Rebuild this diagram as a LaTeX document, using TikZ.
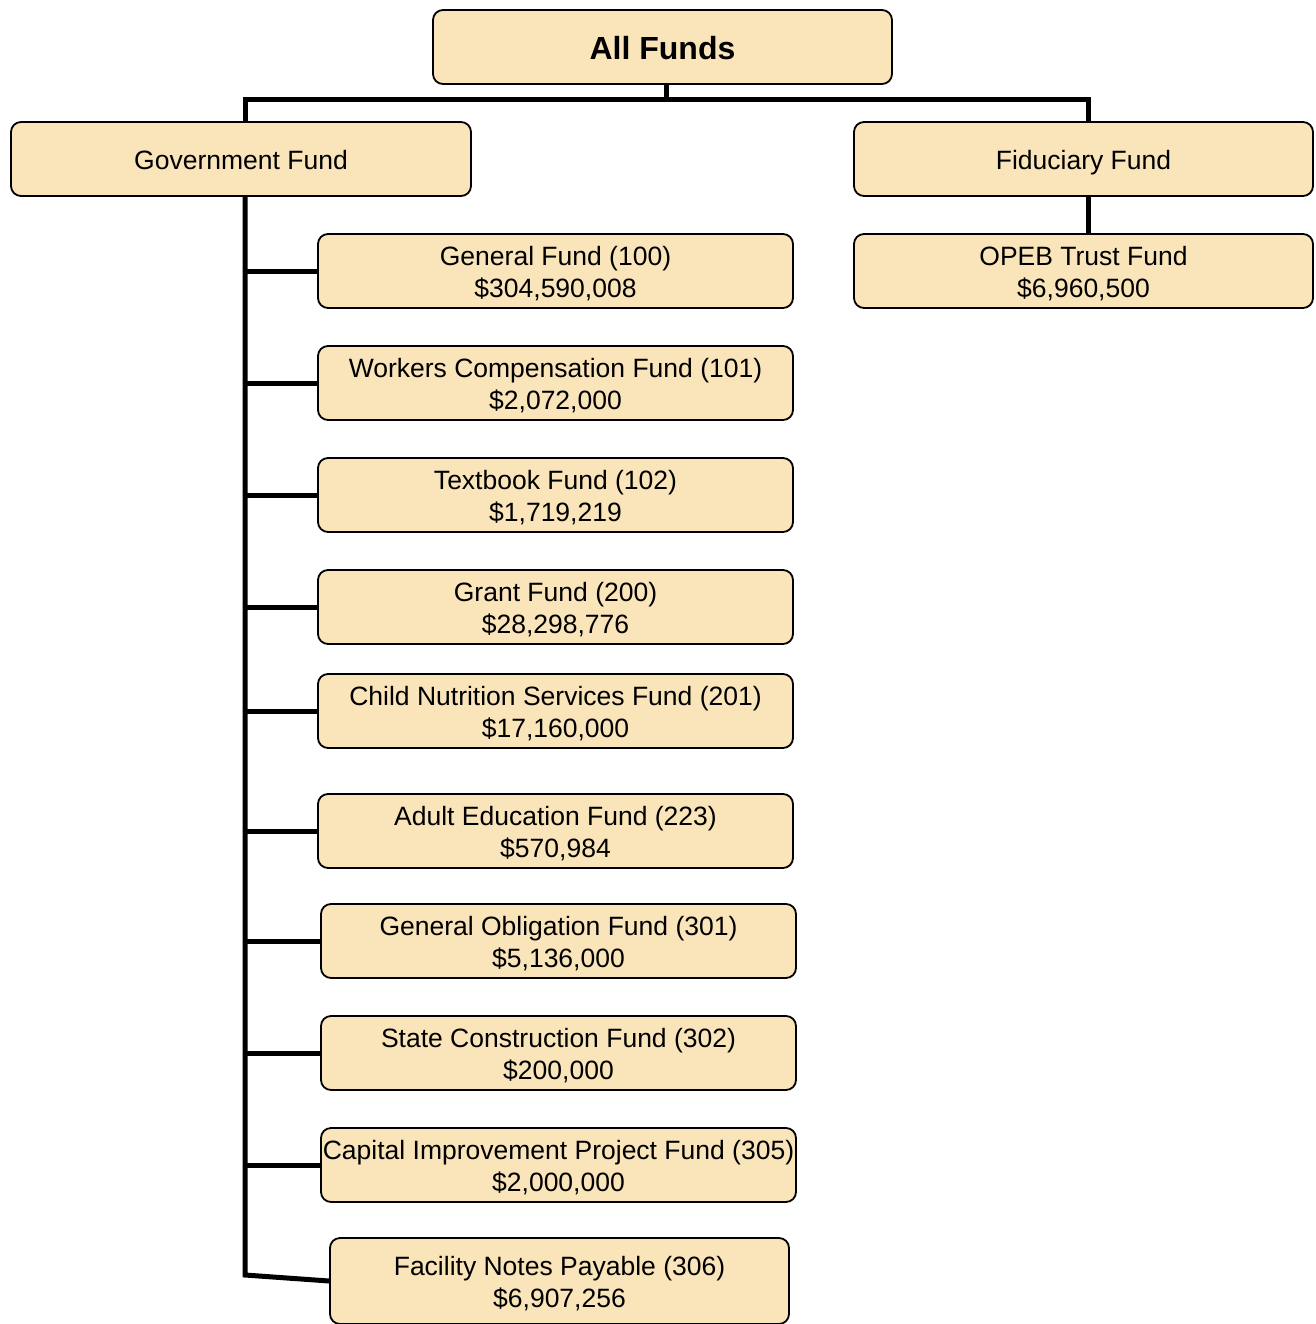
\documentclass[tikz,border=0pt]{standalone}
\usepackage{fontspec}
\setmainfont{Liberation Sans}
\definecolor{boxfill}{HTML}{FAE4BA}
\begin{document}
\begin{tikzpicture}[x=1pt,y=-1pt,
  fundbox/.style={draw=black, line width=1.8pt, fill=boxfill, rounded corners=10pt,
    minimum height=74pt, inner sep=0pt, align=center, text height=53pt, text depth=0pt,
    font=\fontsize{26.5}{32}\selectfont},
  onebox/.style={fundbox, text height=21pt},
  conn/.style={line width=5pt}]
\useasboundingbox (0,0) rectangle (1315,1324);
% top level
\node[onebox, minimum width=459pt, text height=25pt, font=\fontsize{32}{38}\selectfont\bfseries] (all) at (662.5,47) {All Funds};
\node[onebox, minimum width=460pt] (gov) at (241,159) {Government Fund};
\node[onebox, minimum width=459pt] (fid) at (1083.5,159) {Fiduciary Fund};
\node[fundbox, minimum width=459pt] (opeb) at (1083.5,271) {OPEB Trust Fund\\\$6,960,500};
% government children
\node[fundbox, minimum width=475pt] (f100) at (555.5,271) {General Fund (100)\\\$304,590,008};
\node[fundbox, minimum width=475pt] (f101) at (555.5,383) {Workers Compensation Fund (101)\\\$2,072,000};
\node[fundbox, minimum width=475pt] (f102) at (555.5,495) {Textbook Fund (102)\\\$1,719,219};
\node[fundbox, minimum width=475pt] (f200) at (555.5,607) {Grant Fund (200)\\\$28,298,776};
\node[fundbox, minimum width=475pt] (f201) at (555.5,711) {Child Nutrition Services Fund (201)\\\$17,160,000};
\node[fundbox, minimum width=475pt] (f223) at (555.5,831) {Adult Education Fund (223)\\\$570,984};
\node[fundbox, minimum width=475pt] (f301) at (558.5,941) {General Obligation Fund (301)\\\$5,136,000};
\node[fundbox, minimum width=475pt] (f302) at (558.5,1053) {State Construction Fund (302)\\\$200,000};
\node[fundbox, minimum width=475pt] (f305) at (558.5,1165) {Capital Improvement Project Fund (305)\\\$2,000,000};
\node[fundbox, minimum width=459pt, minimum height=86pt] (f306) at (559.5,1281) {Facility Notes Payable (306)\\\$6,907,256};
% coordinates
\coordinate (busL) at (245,100);
\coordinate (busR) at (1088,100);
\coordinate (busM) at (666,100);
\coordinate (spine) at (245,1275);
% connectors
\draw[conn] (all.south -| busM) -- (busM);
\draw[conn] (gov.north -| busL) -- (busL) -- (busR) -- (fid.north -| busR);
\draw[conn] (gov.south -| busL) -- (spine) -- (f306.west);
\draw[conn] (fid.south -| busR) -- (opeb.north -| busR);
\foreach \n in {f100,f101,f102,f200,f201,f223,f301,f302,f305}
  \draw[conn] (\n.west -| spine) -- (\n.west);
\end{tikzpicture}
\end{document}
